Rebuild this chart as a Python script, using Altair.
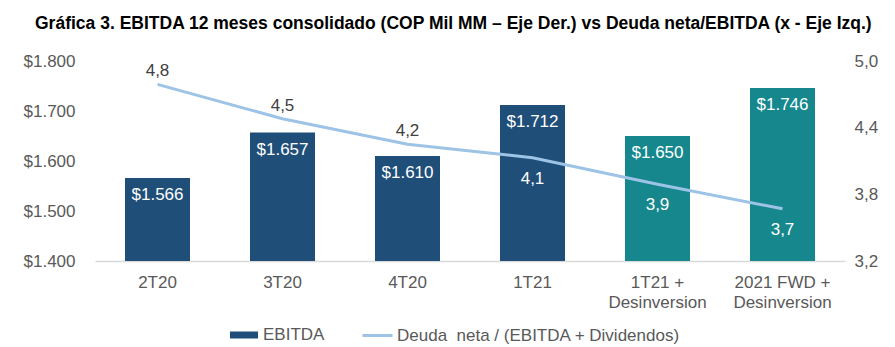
import altair as alt
import pandas as pd

categorias = ["2T20", "3T20", "4T20", "1T21", "1T21 +|Desinversion", "2021 FWD +|Desinversion"]
ebitda = [1566, 1657, 1610, 1712, 1650, 1746]
ebitda_txt = ["$1.566", "$1.657", "$1.610", "$1.712", "$1.650", "$1.746"]
grupo_barra = ["EBITDA", "EBITDA", "EBITDA", "EBITDA", "EBITDA Desinv", "EBITDA Desinv"]
deuda = [4.79, 4.48, 4.25, 4.13, 3.89, 3.67]
deuda_txt = ["4,8", "4,5", "4,2", "4,1", "3,9", "3,7"]
etiqueta_arriba = [True, True, True, False, False, False]

SERIE_LINEA = "Deuda \u00a0neta / (EBITDA + Dividendos)"

df = pd.DataFrame({
    "cat": categorias,
    "ebitda": ebitda,
    "ebitda_txt": ebitda_txt,
    "grupo": grupo_barra,
    "deuda": deuda,
    "deuda_txt": deuda_txt,
    "arriba": etiqueta_arriba,
    "serie_l": [SERIE_LINEA] * len(categorias),
})

FONT = "Liberation Sans"
NAVY = "#1F4E79"
TEAL = "#15878D"
LBLUE = "#9DC3E6"
GREY = "#595959"

x_enc = alt.X(
    "cat:N", sort=categorias,
    scale=alt.Scale(paddingInner=0.48, paddingOuter=0.24),
    axis=alt.Axis(title=None, labelAngle=0, labelExpr="split(datum.value, '|')",
                  labelFontSize=17, labelColor=GREY, labelFont=FONT,
                  domainColor="#D9D9D9", domainWidth=1.5, ticks=False,
                  labelPadding=13, labelLineHeight=20),
)

y_left = alt.Y(
    "ebitda:Q",
    scale=alt.Scale(domain=[1400, 1800], nice=False, zero=False),
    axis=alt.Axis(title=None, values=[1400, 1500, 1600, 1700, 1800],
                  labelExpr="'$' + replace(format(datum.value, ',.0f'), ',', '.')",
                  grid=False, domain=False, ticks=False, labelPadding=20,
                  labelFontSize=17, labelColor=GREY, labelFont=FONT),
)

y_right = alt.Y(
    "deuda:Q",
    scale=alt.Scale(domain=[3.2, 5.0], nice=False, zero=False),
    axis=alt.Axis(title=None, orient="right", values=[3.2, 3.8, 4.4, 5.0],
                  labelExpr="replace(format(datum.value, '.1f'), '.', ',')",
                  grid=False, domain=False, ticks=False, labelPadding=9,
                  labelFontSize=17, labelColor=GREY, labelFont=FONT),
)

base = alt.Chart(df)

bars = base.mark_bar(clip=True).encode(
    x=x_enc,
    y=y_left,
    color=alt.Color(
        "grupo:N",
        scale=alt.Scale(domain=["EBITDA", "EBITDA Desinv"], range=[NAVY, TEAL]),
        legend=alt.Legend(
            title=None, values=["EBITDA"], orient="none", legendX=134, legendY=259,
            symbolType="M-1,-0.25H1V0.25H-1Z", symbolSize=784, symbolOpacity=1,
            labelFontSize=17, labelColor=GREY, labelFont=FONT, padding=0, labelOffset=4,
        ),
    ),
)

bar_text = base.mark_text(color="white", fontSize=17, font=FONT, baseline="middle", dy=17).encode(
    x=alt.X("cat:N", sort=categorias),
    y=alt.Y("ebitda:Q"),
    text="ebitda_txt:N",
)

line = base.mark_line(strokeWidth=3).encode(
    x=alt.X("cat:N", sort=categorias),
    y=y_right,
    stroke=alt.Stroke(
        "serie_l:N",
        scale=alt.Scale(domain=[SERIE_LINEA], range=[LBLUE]),
        legend=alt.Legend(
            title=None, orient="none", legendX=266, legendY=258,
            symbolType="stroke", symbolSize=900, symbolStrokeWidth=3,
            labelFontSize=17, labelColor=GREY, labelFont=FONT, padding=0,
            labelOffset=3, labelLimit=400,
        ),
    ),
)

line_text_up = base.mark_text(color="#404040", fontSize=17, font=FONT, baseline="middle", dy=-13).encode(
    x=alt.X("cat:N", sort=categorias),
    y=alt.Y("deuda:Q"),
    text="deuda_txt:N",
).transform_filter("datum.arriba")

line_text_down = base.mark_text(color="white", fontSize=17, font=FONT, baseline="middle", dy=21).encode(
    x=alt.X("cat:N", sort=categorias),
    y=alt.Y("deuda:Q"),
    text="deuda_txt:N",
).transform_filter("!datum.arriba")

chart = alt.layer(
    alt.layer(bars, bar_text),
    alt.layer(line, line_text_up, line_text_down),
).resolve_scale(y="independent", color="independent", stroke="independent").properties(
    width=750, height=200,
    background="white",
    autosize=alt.AutoSizeParams(type="none"),
    padding={"left": 95, "top": 61, "right": 50, "bottom": 86},
    title=alt.TitleParams(
        "Gráfica 3. EBITDA 12 meses consolidado (COP Mil MM – Eje Der.) vs Deuda neta/EBITDA (x - Eje Izq.)",
        fontSize=17.5, fontWeight="bold", font=FONT, color="black",
        anchor="start", frame="group", dx=-60, offset=20,
    ),
).configure_view(stroke=None)

chart.save("out.html", embed_options={"renderer": "svg", "actions": False})
